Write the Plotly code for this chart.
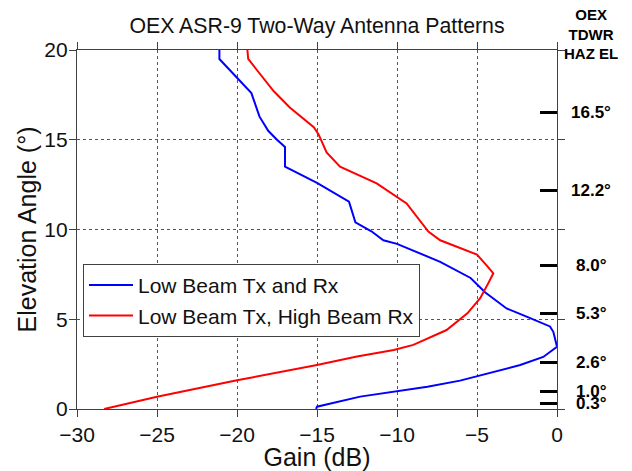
import plotly.graph_objects as go

# Low Beam Tx and Rx (gain dB, elevation deg)
low_elev = [0, 0.13, 0.69, 0.97, 1.24, 1.58, 2.0, 2.45, 2.9, 3.47, 4.3, 4.6, 5.15, 5.6,
            6.5, 7.3, 8.2, 8.76, 9.2, 9.4, 9.9, 10.4, 11.55, 12.6, 13.5, 14.6, 15.0,
            15.5, 16.3, 17.6, 19.5, 20]
low_gain = [-15.06, -15.0, -12.3, -10.0, -8.1, -6.06, -4.2, -2.3, -0.86, 0.0, -0.23,
            -0.44, -1.9, -3.15, -4.5, -5.4, -7.3, -8.77, -10.0, -10.85, -11.6, -12.6,
            -13.0, -15.0, -17.0, -17.0, -17.5, -18.05, -18.6, -19.1, -21.1, -21.1]

# Low Beam Tx, High Beam Rx
high_elev = [0, 0.68, 1.6, 2.45, 2.92, 3.29, 3.57, 4.4, 5.33, 6.17, 7.0, 7.56, 8.0,
             8.6, 9.4, 9.88, 11.45, 12.57, 13.5, 14.3, 15.3, 15.7, 16.8, 17.7, 18.9,
             19.5, 20]
high_gain = [-28.3, -25.0, -20.0, -15.0, -12.5, -10.2, -8.98, -6.9, -5.6, -4.8, -4.3,
             -3.98, -4.4, -5.0, -7.3, -8.04, -9.4, -11.27, -13.56, -14.4, -14.9, -15.2,
             -16.7, -17.7, -18.77, -19.3, -19.35]

# OEX TDWR HAZ elevation angles
haz_el = [16.5, 12.2, 8.0, 5.3, 2.6, 1.0, 0.3]

FONT = "Liberation Sans, Arial, Helvetica, sans-serif"
AX = "#404040"

# page body has an 8px margin, so the figure is 8px smaller than the window
W, H = 624, 463

fig = go.Figure()
fig.add_trace(go.Scatter(x=low_gain, y=low_elev, mode="lines", name="Low Beam Tx and Rx",
                         line=dict(color="#0000ff", width=2)))
fig.add_trace(go.Scatter(x=high_gain, y=high_elev, mode="lines",
                         name="Low Beam Tx, High Beam Rx",
                         line=dict(color="#ff0000", width=2)))
# anchor trace for the HAZ EL tick axis (invisible)
fig.add_trace(go.Scatter(x=[0] * len(haz_el), y=haz_el, yaxis="y2", mode="markers",
                         marker=dict(opacity=0, size=1), showlegend=False,
                         hoverinfo="skip"))

axis_common = dict(showline=True, linecolor=AX, linewidth=1.3, mirror="ticks",
                   ticks="outside", ticklen=7, tickcolor=AX, tickwidth=1,
                   showgrid=True, gridcolor="#555555", griddash="dot", gridwidth=1,
                   zeroline=False, tickfont=dict(size=21, color="#111"),
                   automargin=False)

fig.update_layout(
    width=W, height=H,
    margin=dict(l=69, r=75, t=42, b=62),
    paper_bgcolor="white", plot_bgcolor="white",
    font=dict(family=FONT, size=21, color="#111"),
    title=dict(text="OEX ASR-9 Two-Way Antenna Patterns", x=0.5, xref="paper",
               xanchor="center", y=1 - 18 / H, yref="container", yanchor="middle",
               automargin=False, font=dict(size=21.3, color="#111")),
    xaxis=dict(range=[-30, 0], dtick=5, title=dict(text="Gain (dB)", standoff=0),
               **axis_common),
    yaxis=dict(range=[0, 20], dtick=5, title=dict(text="Elevation Angle (°)", standoff=0),
               ticklabelstandoff=-3, **axis_common),
    yaxis2=dict(overlaying="y", side="right", range=[0, 20], tickmode="array",
                tickvals=haz_el, ticks="inside", ticklen=17, tickwidth=3,
                tickcolor="black", showticklabels=False, showgrid=False,
                zeroline=False, showline=False, automargin=False),
    legend=dict(x=0.0125, y=0.404, xanchor="left", yanchor="top",
                bordercolor=AX, borderwidth=1, bgcolor="white", itemwidth=44,
                font=dict(size=21, color="#111")),
    showlegend=True,
)

for v in haz_el:
    fig.add_annotation(x=1.071, xref="paper", y=v, yref="y", text=f"<b>{v:.1f}°</b>",
                       showarrow=False, xanchor="center", yanchor="middle",
                       font=dict(family=FONT, size=17, color="black"))

fig.add_annotation(x=1.071, xref="paper", y=1.044, yref="paper",
                   text="<b>OEX<br>TDWR<br>HAZ EL</b>", showarrow=False,
                   xanchor="center", yanchor="middle", borderpad=0,
                   font=dict(family=FONT, size=15, color="black"))

fig.write_html("out.html")
